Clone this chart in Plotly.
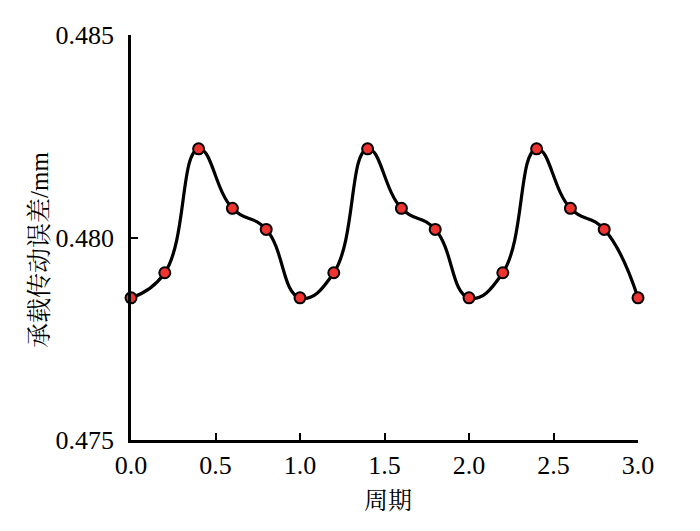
import plotly.graph_objects as go

periods = [0.0, 0.2, 0.4, 0.6, 0.8, 1.0, 1.2, 1.4, 1.6, 1.8, 2.0, 2.2, 2.4, 2.6, 2.8, 3.0]
error_mm = [0.47851, 0.47913, 0.48219, 0.48072, 0.48020,
            0.47851, 0.47913, 0.48219, 0.48072, 0.48020,
            0.47851, 0.47913, 0.48219, 0.48072, 0.48020,
            0.47851]
x_ticks = [0.0, 0.5, 1.0, 1.5, 2.0, 2.5, 3.0]
x_tick_labels = ["0.0", "0.5", "1.0", "1.5", "2.0", "2.5", "3.0"]
y_ticks = [0.475, 0.480, 0.485]
y_tick_labels = ["0.475", "0.480", "0.485"]

fig = go.Figure()
fig.add_trace(go.Scatter(
    x=periods, y=error_mm, mode="lines+markers",
    line=dict(color="black", width=3.2, shape="spline", smoothing=1.3),
    marker=dict(color="#ee3330", size=11, line=dict(color="black", width=2)),
    showlegend=False, cliponaxis=False,
))

serif = '"Liberation Serif", "Times New Roman", serif'
cjk = '"Noto Serif CJK SC", "Noto Sans CJK SC", sans-serif'

# page offset of the plot area (body margin of 8px is added by the page)
L, T, W, H = 123, 27, 507, 405
fig.update_layout(
    width=700, height=531,
    margin=dict(l=L, r=700 - L - W, t=T, b=531 - T - H),
    paper_bgcolor="white", plot_bgcolor="white",
    font=dict(family=serif, size=26, color="black"),
    xaxis=dict(
        range=[0, 3.0], tickvals=x_ticks, ticktext=x_tick_labels,
        showline=True, linecolor="black", linewidth=2.5,
        ticks="inside", ticklen=7, tickwidth=2, tickcolor="black",
        showgrid=False, zeroline=False, automargin=False,
        tickfont=dict(family=serif, size=26),
    ),
    yaxis=dict(
        range=[0.475, 0.485], tickvals=y_ticks, ticktext=y_tick_labels,
        showline=True, linecolor="black", linewidth=2.5,
        ticks="inside", ticklen=7, tickwidth=2, tickcolor="black",
        showgrid=False, zeroline=False, automargin=False,
        tickfont=dict(family=serif, size=26), ticklabelstandoff=9,
    ),
)

def px_x(page_x):
    return (page_x - 8 - L) / W

def px_y(page_y):
    return (T + H - (page_y - 8)) / H

fig.add_annotation(text="周期", xref="paper", yref="paper",
                   x=px_x(388), y=px_y(498), xanchor="center", yanchor="middle",
                   showarrow=False, font=dict(family=cjk, size=24))
fig.add_annotation(text="承载传动误差<span style='font-family:Liberation Serif'>/mm</span>",
                   xref="paper", yref="paper",
                   x=px_x(37), y=px_y(250), xanchor="center", yanchor="middle",
                   textangle=-90, showarrow=False, font=dict(family=cjk, size=25))
fig.write_html("out.html")
